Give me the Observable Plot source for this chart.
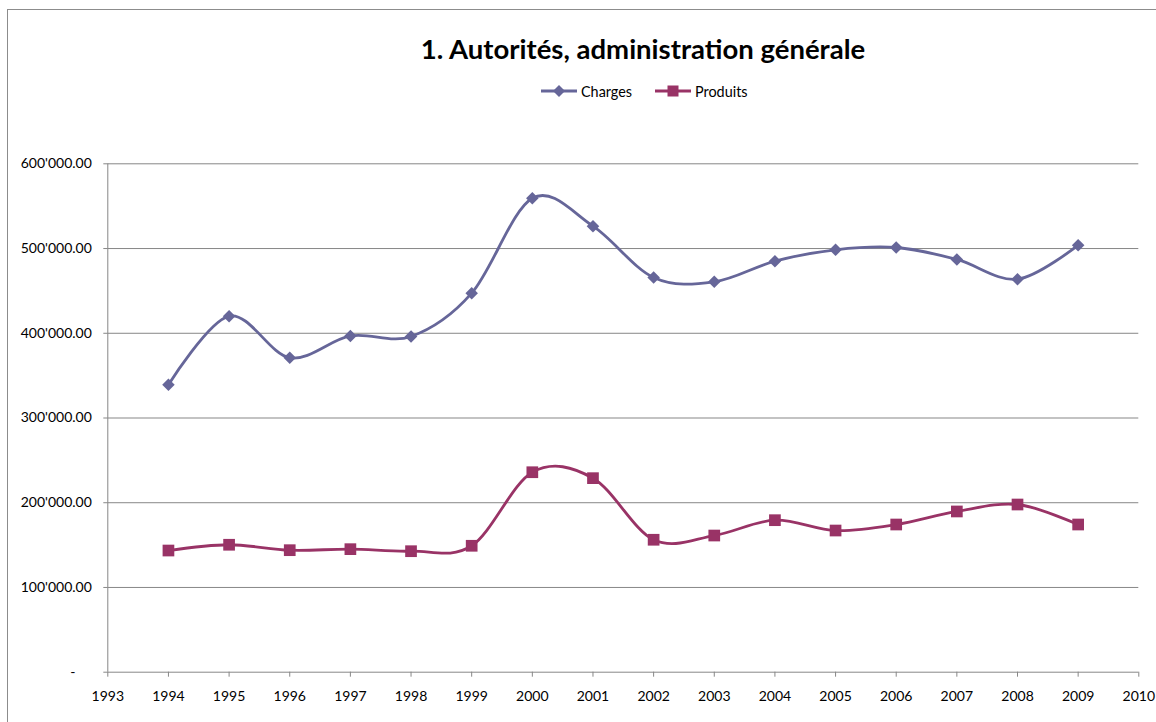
<!DOCTYPE html>
<html>
<head>
<meta charset="utf-8">
<script src="https://cdn.jsdelivr.net/npm/d3@7"></script>
<script src="https://cdn.jsdelivr.net/npm/@observablehq/plot@0.6"></script>
<style>
  html, body { margin: 0; padding: 0; background: #fff; }
  body { width: 1156px; height: 722px; position: relative; overflow: hidden; font-family: Lato, "Open Sans", sans-serif; }
  #frame { position: absolute; left: 7px; top: 9px; width: 1200px; height: 800px; border-top: 1.4px solid #8c8c8c; border-left: 1.4px solid #8c8c8c; }
  #title { position: absolute; left: 293px; width: 700px; top: 32px; text-align: center; font-weight: bold; font-size: 27.5px; line-height: 1.2; color: #000; }
  .leg { position: absolute; top: 82px; height: 18px; display: flex; align-items: center; font-size: 14.4px; color: #000; }
  .leg svg { margin-right: 4px; }
  #chart { position: absolute; left: 0; top: 120px; }
</style>
</head>
<body>
<div id="frame"></div>
<div id="title">1. Autorités, administration générale</div>
<div class="leg" id="leg1" style="left:541px"></div>
<div class="leg" id="leg2" style="left:655px"></div>
<div id="chart"></div>
<script>
const years = [1994,1995,1996,1997,1998,1999,2000,2001,2002,2003,2004,2005,2006,2007,2008,2009];
const charges = [339200,420200,371100,396800,396200,447300,559400,526400,465800,460700,485100,498500,501200,487100,463800,504000];
const produits = [143600,150400,144000,145200,142800,149200,236000,229000,156300,161300,179400,167200,174300,189700,197900,174300];
const seriesNames = ["Charges","Produits"];
const seriesColors = ["#666699","#993366"];
const xTicks = d3.range(1993, 2011);
const yTicks = [0,100000,200000,300000,400000,500000,600000];

const rows = [];
years.forEach((y,i) => {
  rows.push({year: y, value: charges[i], series: "Charges"});
  rows.push({year: y, value: produits[i], series: "Produits"});
});

const diamondSym = { draw(ctx, size) { const s = Math.sqrt(size/2); ctx.moveTo(0,-s); ctx.lineTo(s,0); ctx.lineTo(0,s); ctx.lineTo(-s,0); ctx.closePath(); } };
const squareSym = { draw(ctx, size) { const s = Math.sqrt(size)/2; ctx.rect(-s,-s,2*s,2*s); } };

const fmt = d => d === 0 ? "-\u2007\u2007" : d3.format(",.2f")(d).replace(/,/g, "'");

const plot = Plot.plot({
  width: 1156,
  height: 602,
  marginTop: 43.3,
  marginBottom: 50.3,
  marginLeft: 107.3,
  marginRight: 17.7,
  style: { fontFamily: "Lato, 'Open Sans', sans-serif", fontSize: "14px", color: "#000", background: "transparent" },
  x: { domain: [1993, 2010] },
  y: { domain: [0, 600000] },
  color: { domain: seriesNames, range: seriesColors },
  marks: [
    Plot.gridY(yTicks.filter(d => d > 0), { stroke: "#878787", strokeOpacity: 1, strokeWidth: 1 }),
    Plot.axisY({ ticks: yTicks, tickFormat: fmt, tickSize: 4, tickPadding: 12, stroke: "#878787", label: null, fill: "#000" }),
    Plot.axisX({ ticks: xTicks, tickFormat: d => String(d), tickSize: 5, tickPadding: 14, stroke: "#878787", label: null, fill: "#000" }),
    Plot.ruleX([1993], { stroke: "#878787", strokeWidth: 1 }),
    Plot.ruleY([0], { stroke: "#878787", strokeWidth: 1 }),
    Plot.line(rows, { x: "year", y: "value", z: "series", stroke: "series", strokeWidth: 2.8, curve: "cardinal" }),
    Plot.dot(rows.filter(d => d.series === "Charges"), { x: "year", y: "value", fill: seriesColors[0], stroke: "none", symbol: diamondSym, r: 5 }),
    Plot.dot(rows.filter(d => d.series === "Produits"), { x: "year", y: "value", fill: seriesColors[1], stroke: "none", symbol: squareSym, r: 6.6 })
  ]
});
document.getElementById("chart").appendChild(plot);

// legend
function swatch(color, kind) {
  const ns = "http://www.w3.org/2000/svg";
  const svg = document.createElementNS(ns, "svg");
  svg.setAttribute("width", 36); svg.setAttribute("height", 12);
  const l = document.createElementNS(ns, "line");
  l.setAttribute("x1", 0); l.setAttribute("x2", 36); l.setAttribute("y1", 6); l.setAttribute("y2", 6);
  l.setAttribute("stroke", color); l.setAttribute("stroke-width", 2.8);
  svg.appendChild(l);
  if (kind === "diamond") {
    const p = document.createElementNS(ns, "path");
    p.setAttribute("d", "M18,0L24,6L18,12L12,6Z"); p.setAttribute("fill", color);
    svg.appendChild(p);
  } else {
    const r = document.createElementNS(ns, "rect");
    r.setAttribute("x", 12.5); r.setAttribute("y", 0.5); r.setAttribute("width", 11); r.setAttribute("height", 11); r.setAttribute("fill", color);
    svg.appendChild(r);
  }
  return svg;
}
const l1 = document.getElementById("leg1");
l1.appendChild(swatch(seriesColors[0], "diamond"));
l1.appendChild(document.createTextNode(seriesNames[0]));
const l2 = document.getElementById("leg2");
l2.appendChild(swatch(seriesColors[1], "square"));
l2.appendChild(document.createTextNode(seriesNames[1]));
</script>
</body>
</html>
